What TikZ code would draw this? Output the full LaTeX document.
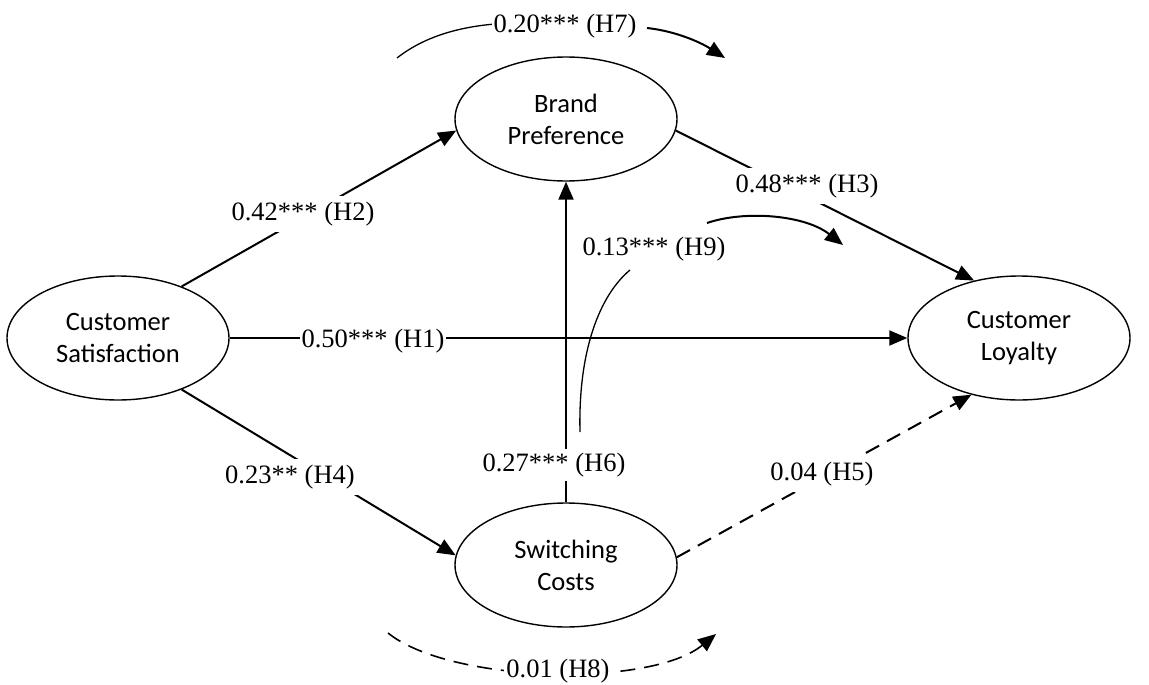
\documentclass[tikz,border=0pt]{standalone}
\usepackage{fontspec}
\setmainfont{Liberation Serif}
\newfontfamily\calib{Carlito}
\usetikzlibrary{arrows.meta,shapes.geometric}
\begin{document}
\begin{tikzpicture}[x=1pt,y=-1pt,
  construct/.style={ellipse,draw,line width=1.4pt,minimum width=222pt,minimum height=124pt,
    inner sep=0pt,align=center,font=\calib\fontsize{26.5}{32}\selectfont},
  link/.style={line width=2pt,-{Triangle[length=18pt,width=15pt]}},
  thinlink/.style={line width=1.3pt},
  dashlink/.style={dash pattern=on 15pt off 9pt},
  coef/.style={fill=white,inner sep=4pt,font=\fontsize{26.5}{30}\selectfont}]
\useasboundingbox (0,0) rectangle (1149,685);

% constructs
\node[construct] (CS) at (118,338) {Customer\\Satisfaction};
\node[construct] (BP) at (566,119) {Brand\\Preference};
\node[construct] (SC) at (566,565) {Switching\\Costs};
\node[construct] (CL) at (1019,338) {Customer\\Loyalty};

% direct paths
\draw[link] (CS.east) -- (CL.west);
\draw[link] (CS.39) -- (BP.186);
\draw[link] (CS.-39) -- (SC.175);
\draw[link] (BP.-6) -- (CL.128);
\draw[link,dashlink] (SC.4) -- (CL.230);
\draw[link] (SC.north) -- (BP.south);

% indirect (mediated) paths
\coordinate (h7a) at (397,58);
\coordinate (h7b) at (495,24);
\coordinate (h7c) at (647,28);
\coordinate (h7d) at (725,58);
\draw[thinlink] (h7a) .. controls (425,36) and (460,27) .. (h7b);
\draw[link] (h7c) .. controls (675,31) and (700,42) .. (h7d);

\coordinate (h8a) at (388,633);
\coordinate (h8b) at (716,634);
\draw[link,line width=1.6pt,dashlink] (h8a) .. controls (450,683) and (650,688) .. (h8b);

\coordinate (h9a) at (580,432);
\coordinate (h9b) at (630,270);
\coordinate (h9c) at (707,223);
\coordinate (h9d) at (843,245);
\draw[thinlink] (h9a) .. controls (578,350) and (600,295) .. (h9b);
\draw[link] (h9c) .. controls (745,210) and (805,215) .. (h9d);

% path coefficients
\node[coef,inner sep=2pt] (h1) at (373,341) {0.50*** (H1)};
\node[coef,inner sep=6pt] (h2) at (303,214) {0.42*** (H2)};
\node[coef,inner sep=6pt] (h3) at (807,186) {0.48*** (H3)};
\node[coef,inner sep=6pt] (h4) at (290,477) {0.23** (H4)};
\node[coef,inner sep=6pt] (h5) at (822,474) {0.04 (H5)};
\node[coef] (h6) at (554,465) {0.27*** (H6)};
\node[coef,inner sep=2pt] (h7) at (565,26) {0.20*** (H7)};
\node[coef,inner sep=2pt] (h8) at (558,671) {0.01 (H8)};
\node[coef,fill=none] (h9) at (654,249) {0.13*** (H9)};
\end{tikzpicture}
\end{document}
